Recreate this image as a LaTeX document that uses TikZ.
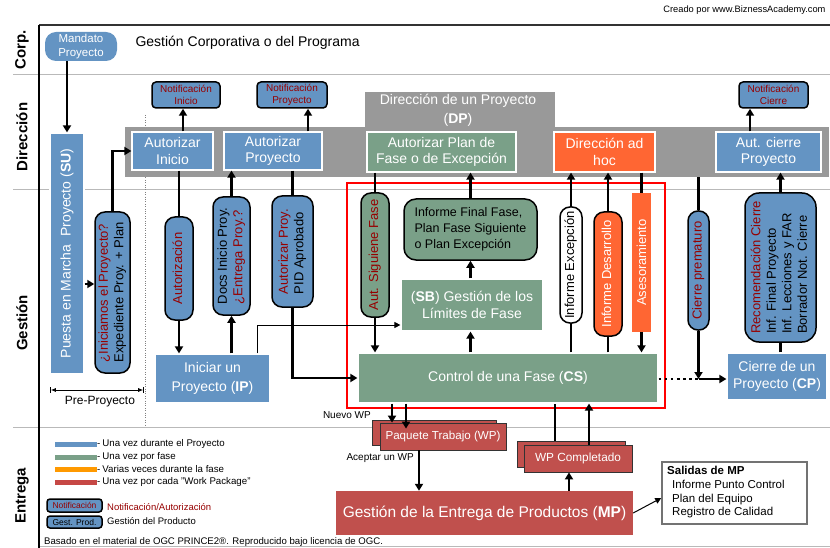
\documentclass[tikz,border=0pt]{standalone}
\usepackage{fontspec}
\setmainfont{Liberation Sans}
\usepackage{graphicx}
\usetikzlibrary{arrows.meta,calc}
\definecolor{pblue}{RGB}{100,148,195}
\definecolor{pgreen}{RGB}{122,160,136}
\definecolor{porange}{RGB}{255,102,51}
\definecolor{lorange}{RGB}{255,153,0}
\definecolor{pred}{RGB}{192,80,77}
\definecolor{pgray}{RGB}{153,153,153}
\definecolor{nred}{RGB}{150,0,0}
\definecolor{laneg}{RGB}{185,185,185}
\newcommand\fs[2]{\fontsize{#1}{#2}\selectfont}
\newcommand\vtxt[1]{\rotatebox{90}{\begin{tabular}{@{}l@{}}#1\end{tabular}}}
\tikzset{
 proc/.style={draw=white, line width=1.2pt, text=white, inner sep=0pt, align=center, font=\fs{14}{16.5}},
 bluep/.style={proc, fill=pblue},
 greenp/.style={proc, fill=pgreen},
 pill/.style={draw=black, line width=1.5pt, rounded corners=10pt, inner sep=0pt, font=\fs{13}{15.5}},
 notif/.style={draw=black, line width=1.5pt, rounded corners=4pt, fill=pblue, text=nred, inner sep=0pt, align=center, font=\fs{10}{12}},
 wpbox/.style={draw=black!80, line width=0.8pt, fill=pred, text=white, inner sep=0pt, font=\fs{11.6}{14}},
 ln/.style={line width=2.4pt},
 arr/.style={line width=2.4pt, -{Triangle[length=7pt,width=8pt]}},
 tarr/.style={line width=1pt, -{Triangle[length=6pt,width=6pt]}},
 lane/.style={font=\fs{15}{18}\bfseries, rotate=90},
 legtxt/.style={anchor=west, font=\fs{9.7}{11}, inner sep=0pt},
}
\begin{document}
\begin{tikzpicture}[x=1pt,y=-1pt]
\useasboundingbox (0,0) rectangle (830,548);
% lanes and frame
\draw[laneg, line width=1pt] (13,75) -- (830,75);
\draw[laneg, line width=1pt] (13,190) -- (830,190);
\draw[laneg, line width=1pt] (13,427) -- (830,427);
\draw[laneg, line width=1pt] (39,546) -- (830,546);
\draw[black!80, line width=2pt] (39,25) -- (830,25);
\draw[black, line width=1.5pt] (39,25) -- (39,548);
\node[lane] (lc) at (22,50) {Corp.};
\node[lane] (ld) at (22,137) {Dirección};
\node[lane] (lg) at (22,323) {Gestión};
\node[lane] (le) at (22,496) {Entrega};
\node[anchor=east, font=\fs{9.3}{11}] (cred) at (829,10) {Creado por www.BiznessAcademy.com};
% corp
\node[fill=pblue, rounded corners=11pt, minimum width=72pt, minimum height=29pt, inner sep=0pt, text=white, align=center, font=\fs{11.5}{13.5}] (MAN) at (81,46.5) {Mandato\\Proyecto};
\node[anchor=west, font=\fs{14}{16}] (gcp) at (132,43) {Gestión Corporativa o del Programa};
% dotted separator
\draw[gray, line width=0.8pt, dash pattern=on 0.8pt off 1.6pt] (145,115) -- (145,425);
% direction band
\node[fill=pgray, anchor=north west, minimum width=704pt, minimum height=50pt, inner sep=0pt] (band) at (125,127) {};
\node[fill=pgray, anchor=north west, minimum width=190pt, minimum height=36pt, inner sep=0pt] (tab) at (365,92) {};
\node[text=white, align=center, font=\fs{14}{19}] (dpt) at (458,110) {Dirección de un Proyecto\\(\textbf{DP})};
\node[bluep, minimum width=81pt, minimum height=38pt] (AI) at (172.5,151) {Autorizar\\Inicio};
\node[bluep, minimum width=98pt, minimum height=38pt] (AP) at (273,151) {Autorizar\\Proyecto};
\node[greenp, minimum width=149pt, minimum height=40pt] (APF) at (441.5,152) {Autorizar Plan de\\Fase o de Excepción};
\node[proc, fill=porange, minimum width=101pt, minimum height=40pt] (DAH) at (604.5,152) {Dirección ad\\hoc};
\node[bluep, minimum width=105pt, minimum height=40pt] (ACP) at (768.5,152) {Aut. cierre\\Proyecto};
\node[notif, minimum width=68pt, minimum height=26pt] (NI) at (186,95) {Notificación\\Inicio};
\node[notif, minimum width=70pt, minimum height=26pt] (NP) at (292,95) {Notificación\\Proyecto};
\node[notif, minimum width=69pt, minimum height=26pt] (NC) at (773.5,95) {Notificación\\Cierre};
% gestion
\node[bluep, minimum width=34pt, minimum height=241pt] (SU) at (67,253.5) {\rotatebox{90}{Puesta en Marcha\ \ Proyecto (\textbf{SU})}};
\node[pill, fill=pblue, minimum width=35pt, minimum height=161pt] (PRE) at (112.5,292.5) {\vtxt{\textcolor{nred}{¿Iniciamos el Proyecto?}\\Expediente Proy. + Plan}};
\node[pill, fill=pblue, minimum width=28pt, minimum height=103pt] (AUT) at (179,268.5) {\vtxt{\textcolor{nred}{Autorización}}};
\node[pill, fill=pblue, minimum width=37pt, minimum height=118pt] (DOCS) at (231.5,256) {\vtxt{Docs Inicio Proy.\\\textcolor{nred}{¿Entrega Proy.?}}};
\node[pill, fill=pblue, minimum width=41pt, minimum height=111pt] (APR) at (292.5,251.5) {\vtxt{\textcolor{nred}{Autorizar Proy.}\\PID Aprobado}};
\node[bluep, minimum width=115pt, minimum height=49pt, font=\fs{14}{19}] (IP) at (212.5,378.5) {Iniciar un\\Proyecto (\textbf{IP})};
\node[pill, fill=pgreen, minimum width=28pt, minimum height=124pt] (SIG) at (375,255) {\vtxt{\textcolor{nred}{Aut. Siguiene Fase}}};
\node[draw=black, line width=1.5pt, rounded corners=12pt, fill=pgreen, minimum width=133pt, minimum height=61pt, inner sep=0pt, align=left, font=\fs{12.5}{16}] (IFF) at (470.5,229.5) {Informe Final Fase,\\Plan Fase Siguiente\\o Plan Excepción};
\node[greenp, minimum width=142pt, minimum height=52pt, font=\fs{14}{17}] (SB) at (472,305) {(\textbf{SB}) Gestión de los\\Límites de Fase};
\node[greenp, minimum width=300pt, minimum height=50pt] (CS) at (508,378) {Control de una Fase (\textbf{CS})};
\node[pill, fill=white, minimum width=22pt, minimum height=116pt] (IEX) at (571,265) {\vtxt{Informe Excepción}};
\node[pill, fill=porange, text=white, minimum width=28pt, minimum height=124pt] (IDE) at (608,274) {\vtxt{Informe Desarrollo}};
\node[fill=porange, text=white, minimum width=19pt, minimum height=139pt, inner sep=0pt, font=\fs{13}{15}] (ASE) at (641.5,262.5) {\rotatebox{90}{Asesoramiento}};
\node[pill, fill=pblue, minimum width=21pt, minimum height=119pt] (CPR) at (698.5,270.5) {\vtxt{\textcolor{nred}{Cierre prematuro}}};
\node[pill, fill=pblue, rounded corners=14pt, minimum width=71pt, minimum height=149pt] (REC) at (780.5,267.5) {\vtxt{\textcolor{nred}{Recomendación Cierre}\\Inf. Final Proyecto\\Inf. Lecciones y FAR\\Borrador Not. Cierre}};
\node[bluep, minimum width=100pt, minimum height=47pt, font=\fs{14}{17}] (CP) at (777,376.5) {Cierre de un\\Proyecto (\textbf{CP})};
\draw[red, line width=2.5pt] (347,183) rectangle (665,408);
% pre-proyecto
\draw[|<->|, >={Latex[length=5pt,width=4pt]}, line width=0.8pt] (50,390) -- (144,390);
\node[font=\fs{12}{14}] (ppt) at (100,402) {Pre-Proyecto};
% entrega
\node[wpbox, minimum width=124pt, minimum height=25pt] (WPb) at (434,432.5) {};
\node[wpbox, minimum width=126pt, minimum height=27pt] (WP) at (443,436.5) {Paquete Trabajo (WP)};
\node[wpbox, minimum width=108pt, minimum height=26pt] (WCb) at (571,454) {};
\node[wpbox, minimum width=108pt, minimum height=27pt, font=\fs{11.8}{14}] (WC) at (578,458.5) {WP Completado};
\node[fill=pred, text=white, minimum width=297pt, minimum height=44pt, inner sep=0pt, font=\fs{15.5}{18}] (MP) at (484.5,513) {Gestión de la Entrega de Productos (\textbf{MP})};
\node[draw=gray!90!black, line width=1.5pt, fill=white, minimum width=145pt, minimum height=62pt, inner sep=0pt] (SAL) at (734.5,493) {};
\node[anchor=north west, align=left, font=\fs{11.5}{13.8}, inner sep=0pt] (SALt) at (667,466) {\textbf{Salidas de MP}\\\hspace*{5pt}Informe Punto Control\\\hspace*{5pt}Plan del Equipo\\\hspace*{5pt}Registro de Calidad};
\node[anchor=east, font=\fs{10}{12}, inner sep=0pt] (nwp) at (371,415) {Nuevo WP};
\node[anchor=east, font=\fs{10}{12}, inner sep=0pt] (awp) at (414,458) {Aceptar un WP};
% legend
\draw[pblue, line width=5pt] (55,444) -- (97,444);
\draw[pgreen, line width=5pt] (55,457) -- (97,457);
\draw[lorange, line width=5pt] (55,469) -- (97,469);
\draw[pred!90!red, line width=5pt] (55,482) -- (97,482);
\node[legtxt] (l1) at (97,444) {-\hspace{2pt}Una vez durante el Proyecto};
\node[legtxt] (l2) at (97,457) {-\hspace{2pt}Una vez por fase};
\node[legtxt] (l3) at (97,469) {-\hspace{2pt}Varias veces durante la fase};
\node[legtxt] (l4) at (97,482) {-\hspace{2pt}Una vez por cada "Work Package"};
\node[notif, minimum width=55pt, minimum height=13pt, font=\fs{8.5}{10}, rounded corners=3pt] (lgn) at (74.5,505.5) {Notificación};
\node[anchor=west, text=nred, font=\fs{9.5}{11}, inner sep=0pt] (lgnt) at (107,507) {Notificación/Autorización};
\node[notif, text=black, minimum width=55pt, minimum height=12pt, font=\fs{8.5}{10}, rounded corners=3pt] (lgp) at (74.5,522) {Gest. Prod.};
\node[anchor=west, font=\fs{9.5}{11}, inner sep=0pt] (lgpt) at (107,521) {Gestión del Producto};
\node[anchor=west, font=\fs{9.6}{11}, inner sep=0pt] (foot) at (44,542) {Basado en el material de OGC PRINCE2®. Reproducido bajo licencia de OGC.};
% connectors
\draw[arr] (67,0 |- MAN.south) -- (SU.north);
\draw[arr] (SU.east |- 0,284) -- (PRE.west |- 0,284);
\draw[arr] (PRE.north) |- (AI.west);
\draw[arr] (183,0 |- AI.north) -- (183,0 |- NI.south);
\draw[arr] (308,0 |- AP.north) -- (308,0 |- NP.south);
\draw[arr] (750,0 |- ACP.north) -- (750,0 |- NC.south);
\draw[ln] (AI.south -| AUT.north) -- (AUT.north);
\draw[arr] (AUT.south) -- (AUT.south |- IP.north);
\draw[arr] (DOCS.south |- IP.north) -- (DOCS.south);
\draw[arr] (DOCS.north) -- (DOCS.north |- AP.south);
\draw[ln] (APR.north |- AP.south) -- (APR.north);
\draw[arr] (APR.south) |- (CS.west);
\draw[tarr] (257,0 |- IP.north) |- (SB.west |- 0,325);
\draw[ln] (SIG.north |- APF.south) -- (SIG.north);
\draw[arr] (SIG.south) -- (SIG.south |- CS.north);
\draw[arr] (IFF.north) -- (IFF.north |- APF.south);
\draw[arr] (IFF.south |- SB.north) -- (IFF.south);
\draw[arr] (IFF.south |- CS.north) -- (IFF.south |- SB.south);
\draw[ln] (IEX.south |- CS.north) -- (IEX.south);
\draw[arr] (IEX.north) -- (IEX.north |- DAH.south);
\draw[ln] (IDE.south |- CS.north) -- (IDE.south);
\draw[arr] (IDE.north) -- (IDE.north |- DAH.south);
\draw[ln] (ASE.north |- DAH.south) -- (ASE.north);
\draw[arr] (ASE.south) -- (ASE.south |- CS.north);
\draw[ln] (CPR.north |- band.south) -- (CPR.north);
\coordinate (J) at (CPR.south |- 0,379);
\draw[arr] (CPR.south) -- (J);
\draw[arr] (J) -- (CP.west |- J);
\draw[line width=2.6pt, dash pattern=on 2.6pt off 3.5pt] (CS.east |- J) -- (J);
\draw[ln] (REC.south |- CP.north) -- (REC.south);
\draw[arr] (REC.north) -- (REC.north |- ACP.south);
\draw[arr] (392,0 |- CS.south) -- (392,0 |- WP.north);
\draw[arr] (406,0 |- CS.south) -- ($(406,0 |- WP.north)+(0,6)$);
\draw[arr] (419,0 |- WP.south) -- (419,0 |- MP.north);
\draw[arr] (569,0 |- MP.north) -- (569,0 |- WC.south);
\draw[ln] (555,0 |- WCb.north) -- (555,0 |- CS.south);
\draw[arr] (589,0 |- WC.north) -- (589,0 |- CS.south);
\draw[tarr] (MP.east) -- ($(SAL.west)+(0,5)$);
\end{tikzpicture}
\end{document}
